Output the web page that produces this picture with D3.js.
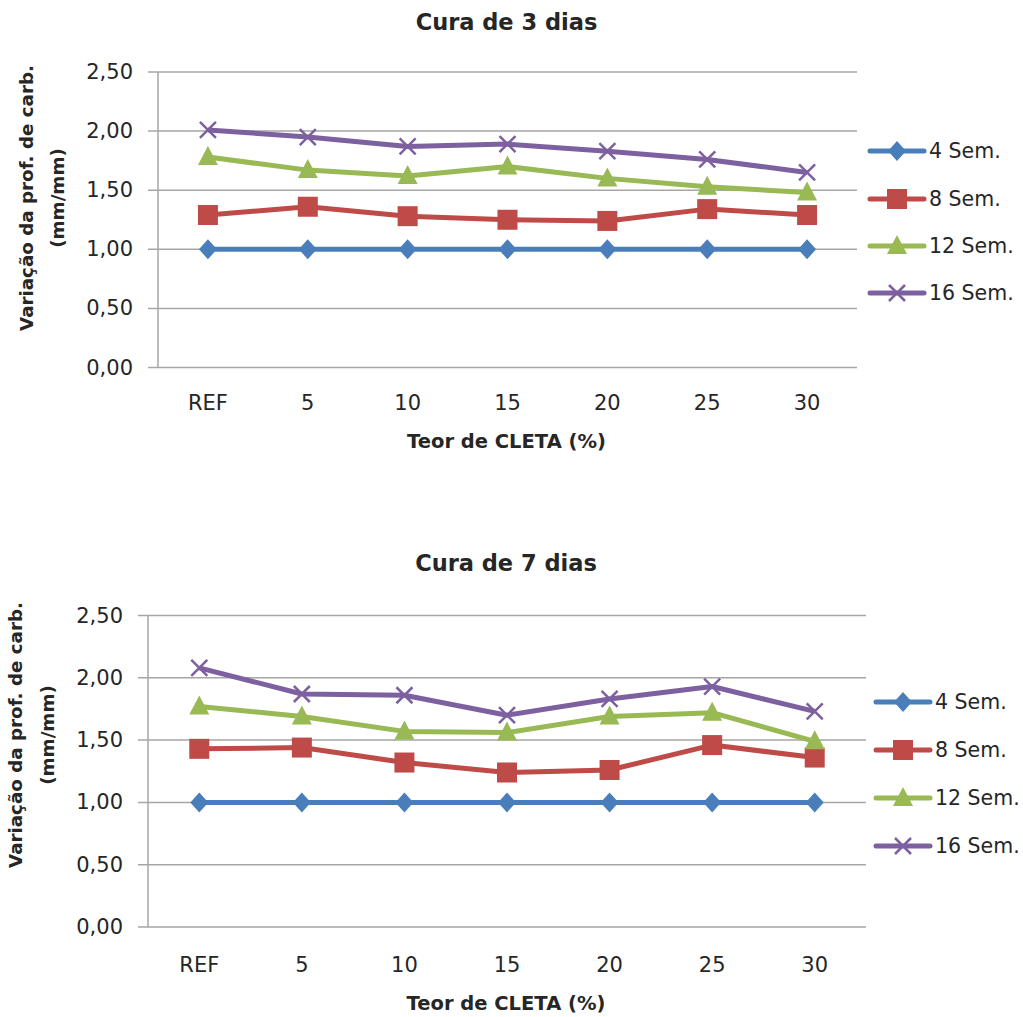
<!DOCTYPE html>
<html>
<head>
<meta charset="utf-8">
<script src="https://cdn.jsdelivr.net/npm/d3@7"></script>
<style>
  html, body { margin: 0; padding: 0; background: #fff; }
  svg { display: block; }
  text { font-family: "DejaVu Sans", sans-serif; fill: #262626; }
</style>
</head>
<body>
<svg id="chart" width="1023" height="1017"></svg>
<script>
// Categories: CLETA content
const categories = ["REF", "5", "10", "15", "20", "25", "30"];
const seriesNames = ["4 Sem.", "8 Sem.", "12 Sem.", "16 Sem."];
const yTicks = [0, 0.5, 1.0, 1.5, 2.0, 2.5];

// Cure of 3 days
const cure3_4sem  = [1.00, 1.00, 1.00, 1.00, 1.00, 1.00, 1.00];
const cure3_8sem  = [1.29, 1.36, 1.28, 1.25, 1.24, 1.34, 1.29];
const cure3_12sem = [1.78, 1.67, 1.62, 1.70, 1.60, 1.53, 1.48];
const cure3_16sem = [2.01, 1.95, 1.87, 1.89, 1.83, 1.76, 1.65];

// Cure of 7 days
const cure7_4sem  = [1.00, 1.00, 1.00, 1.00, 1.00, 1.00, 1.00];
const cure7_8sem  = [1.43, 1.44, 1.32, 1.24, 1.26, 1.46, 1.36];
const cure7_12sem = [1.77, 1.69, 1.57, 1.56, 1.69, 1.72, 1.49];
const cure7_16sem = [2.08, 1.87, 1.86, 1.70, 1.83, 1.93, 1.73];

const colors = ["#4a7ebb", "#be4b48", "#98b954", "#7d60a0"];
const symbols = ["diamond", "square", "triangle", "cross"];

const svg = d3.select("#chart");
const fmt = v => d3.format(".2f")(v).replace(".", ",");

function drawMarker(g, type, color, x, y) {
  if (type === "diamond") {
    g.append("path").attr("d", `M${x},${y - 10}L${x + 9},${y}L${x},${y + 10}L${x - 9},${y}Z`).attr("fill", color);
  } else if (type === "square") {
    g.append("rect").attr("x", x - 10).attr("y", y - 10).attr("width", 20).attr("height", 20).attr("fill", color);
  } else if (type === "triangle") {
    g.append("path").attr("d", `M${x},${y - 11}L${x + 10},${y + 8}L${x - 10},${y + 8}Z`).attr("fill", color);
  } else {
    g.append("path").attr("d", `M${x - 8},${y - 8}L${x + 8},${y + 8}M${x - 8},${y + 8}L${x + 8},${y - 8}`)
      .attr("stroke", color).attr("stroke-width", 2.5).attr("fill", "none");
  }
}

function drawChart(cfg) {
  const { title, series, left, right, top, bottom, titleY, tickLabelY, axisTitleY, yTitleX1, yTitleX2, yTitleCY, legendX, legendYs } = cfg;
  const g = svg.append("g");

  const x = d3.scaleBand().domain(categories).range([left, right]);
  const y = d3.scaleLinear().domain([0, 2.5]).range([bottom, top]);

  // Gridlines with small outer ticks to the left of the axis
  g.selectAll(".grid").data(yTicks).join("line")
    .attr("x1", left - 10).attr("x2", right)
    .attr("y1", d => y(d)).attr("y2", d => y(d))
    .attr("stroke", "#a6a6a6").attr("stroke-width", 1.5);

  // Vertical axis line
  g.append("line").attr("x1", left).attr("x2", left).attr("y1", top).attr("y2", bottom)
    .attr("stroke", "#a6a6a6").attr("stroke-width", 1.5);

  // Y tick labels
  g.selectAll(".ytl").data(yTicks).join("text")
    .attr("x", left - 25).attr("y", d => y(d))
    .attr("text-anchor", "end").attr("dominant-baseline", "central")
    .attr("font-size", 21).text(fmt);

  // X tick labels
  g.selectAll(".xtl").data(categories).join("text")
    .attr("x", d => x(d) + x.bandwidth() / 2).attr("y", tickLabelY)
    .attr("text-anchor", "middle").attr("dominant-baseline", "central")
    .attr("font-size", 21).text(d => d);

  // Titles
  g.append("text").attr("x", (left + right) / 2 - 1).attr("y", titleY)
    .attr("text-anchor", "middle").attr("dominant-baseline", "central")
    .attr("font-size", 22.5).attr("font-weight", "bold").text(title);
  g.append("text").attr("x", (left + right) / 2 - 1).attr("y", axisTitleY)
    .attr("text-anchor", "middle").attr("dominant-baseline", "central")
    .attr("font-size", 19.5).attr("font-weight", "bold").text("Teor de CLETA (%)");

  const yt = g.append("g").attr("transform", `rotate(-90)`);
  yt.append("text").attr("x", -yTitleCY).attr("y", yTitleX1)
    .attr("text-anchor", "middle").attr("dominant-baseline", "central")
    .attr("font-size", 18.3).attr("font-weight", "bold").text("Variação da prof. de carb.");
  yt.append("text").attr("x", -yTitleCY).attr("y", yTitleX2)
    .attr("text-anchor", "middle").attr("dominant-baseline", "central")
    .attr("font-size", 18.3).attr("font-weight", "bold").text("(mm/mm)");

  // Series lines and markers
  const line = d3.line()
    .x((d, i) => x(categories[i]) + x.bandwidth() / 2)
    .y(d => y(d));

  series.forEach((vals, s) => {
    const sg = g.append("g");
    sg.append("path").datum(vals).attr("d", line)
      .attr("fill", "none").attr("stroke", colors[s]).attr("stroke-width", 5)
      .attr("stroke-linejoin", "round");
    vals.forEach((v, i) => drawMarker(sg, symbols[s], colors[s], x(categories[i]) + x.bandwidth() / 2, y(v)));
  });

  // Legend
  seriesNames.forEach((name, s) => {
    const ly = legendYs[s];
    const lg = g.append("g");
    lg.append("line").attr("x1", legendX).attr("x2", legendX + 54).attr("y1", ly).attr("y2", ly)
      .attr("stroke", colors[s]).attr("stroke-width", 5).attr("stroke-linecap", "round");
    drawMarker(lg, symbols[s], colors[s], legendX + 27, ly);
    lg.append("text").attr("x", legendX + 59).attr("y", ly)
      .attr("dominant-baseline", "central").attr("font-size", 20.5).text(name);
  });
}

drawChart({
  title: "Cura de 3 dias",
  series: [cure3_4sem, cure3_8sem, cure3_12sem, cure3_16sem],
  left: 158, right: 857, top: 72, bottom: 367.5,
  titleY: 22, tickLabelY: 403, axisTitleY: 441,
  yTitleX1: 26, yTitleX2: 57, yTitleCY: 198,
  legendX: 870, legendYs: [151, 199, 246, 293]
});

drawChart({
  title: "Cura de 7 dias",
  series: [cure7_4sem, cure7_8sem, cure7_12sem, cure7_16sem],
  left: 148, right: 866, top: 615.5, bottom: 927,
  titleY: 563, tickLabelY: 965, axisTitleY: 1003,
  yTitleX1: 15, yTitleX2: 47, yTitleCY: 735,
  legendX: 876, legendYs: [702, 750, 798, 846]
});
</script>
</body>
</html>
